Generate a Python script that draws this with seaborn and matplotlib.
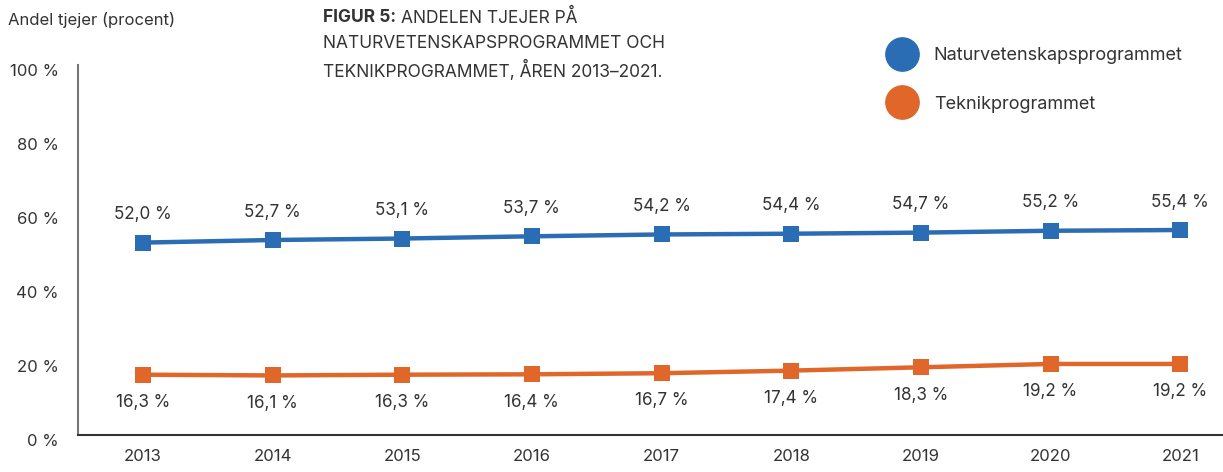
import pandas as pd
import matplotlib
matplotlib.use("Agg")
import matplotlib.pyplot as plt
import matplotlib.transforms as mtransforms
from matplotlib.lines import Line2D
import seaborn as sns

# chart data
years = [2013, 2014, 2015, 2016, 2017, 2018, 2019, 2020, 2021]
natur = [52.0, 52.7, 53.1, 53.7, 54.2, 54.4, 54.7, 55.2, 55.4]
teknik = [16.3, 16.1, 16.3, 16.4, 16.7, 17.4, 18.3, 19.2, 19.2]
series_names = ["Naturvetenskapsprogrammet", "Teknikprogrammet"]
colors = ["#2a6db5", "#e0662a"]
y_ticks = [0, 20, 40, 60, 80, 100]

df = pd.DataFrame({
    "year": years * 2,
    "value": natur + teknik,
    "program": [series_names[0]] * len(years) + [series_names[1]] * len(years),
})

sns.set_style("white")
plt.rcParams["font.family"] = ["Inter", "DejaVu Sans"]
text_color = "#333333"

fig = plt.figure(figsize=(12.23, 4.72), dpi=100)
ax = fig.add_axes([78 / 1223, 37 / 472, 1145 / 1223, 370 / 472])

sns.lineplot(data=df, x="year", y="value", hue="program", palette=colors,
             style="program", markers=["s", "s"], dashes=False,
             linewidth=3.2, markersize=12, markeredgewidth=0, ax=ax, legend=False)

# value labels: blue above, orange below
for x, v in zip(years, natur):
    ax.annotate(f"{v:.1f} %".replace(".", ","), (x, v), xytext=(0, 20),
                textcoords="offset points", ha="center", va="center",
                fontsize=12.3, color=text_color)
for x, v in zip(years, teknik):
    ax.annotate(f"{v:.1f} %".replace(".", ","), (x, v), xytext=(0, -20),
                textcoords="offset points", ha="center", va="center",
                fontsize=12.3, color=text_color)

ax.set_xlim(2012.5, 2021.33)
ax.set_ylim(0, 100)
ax.set_xticks(years)
ax.set_xticklabels([str(y) for y in years], fontsize=12, color=text_color)
ax.set_yticks(y_ticks)
ax.set_yticklabels([f"{t} %" for t in y_ticks], fontsize=12, color=text_color)
ax.tick_params(axis="both", length=0)
ax.tick_params(axis="y", pad=14)
ax.tick_params(axis="x", pad=10)
ax.set_xlabel("")
ax.set_ylabel("")
# y tick labels sit a little below their gridline positions in the original
shift = mtransforms.ScaledTranslation(0, -5 / 100, fig.dpi_scale_trans)
for lbl in ax.get_yticklabels():
    lbl.set_transform(lbl.get_transform() + shift)
ax.spines["top"].set_visible(False)
ax.spines["right"].set_visible(False)
ax.spines["left"].set_color("#777777")
ax.spines["left"].set_linewidth(1.5)
ax.spines["bottom"].set_color("#333333")
ax.spines["bottom"].set_linewidth(1.5)

# y axis title
fig.text(8 / 1223, 1 - 20 / 472, "Andel tjejer (procent)", fontsize=12,
         color=text_color, va="center", ha="left")

# figure title, bold prefix then regular text
fig.canvas.draw()
renderer = fig.canvas.get_renderer()
t1 = fig.text(323 / 1223, 1 - 18 / 472, "FIGUR 5:", fontsize=12.5, fontweight="bold",
              color=text_color, va="center", ha="left")
bb = t1.get_window_extent(renderer=renderer)
fig.text((bb.x1 + 5) / 1223, 1 - 18 / 472, "ANDELEN TJEJER PÅ", fontsize=12.5,
         color=text_color, va="center", ha="left")
fig.text(323 / 1223, 1 - 44 / 472, "NATURVETENSKAPSPROGRAMMET OCH", fontsize=12.5,
         color=text_color, va="center", ha="left")
fig.text(323 / 1223, 1 - 70 / 472, "TEKNIKPROGRAMMET, ÅREN 2013–2021.", fontsize=12.5,
         color=text_color, va="center", ha="left")

# legend with large circles
handles = [Line2D([], [], linestyle="none", marker="o", markersize=25,
                  markerfacecolor=c, markeredgewidth=0) for c in colors]
fig.legend(handles, series_names, loc="upper left",
           bbox_to_anchor=(875 / 1223, 1 - 38 / 472), frameon=False,
           fontsize=13, labelspacing=1.75, handletextpad=0.75,
           labelcolor=text_color, borderpad=0)

fig.savefig("out.png", dpi=100)
